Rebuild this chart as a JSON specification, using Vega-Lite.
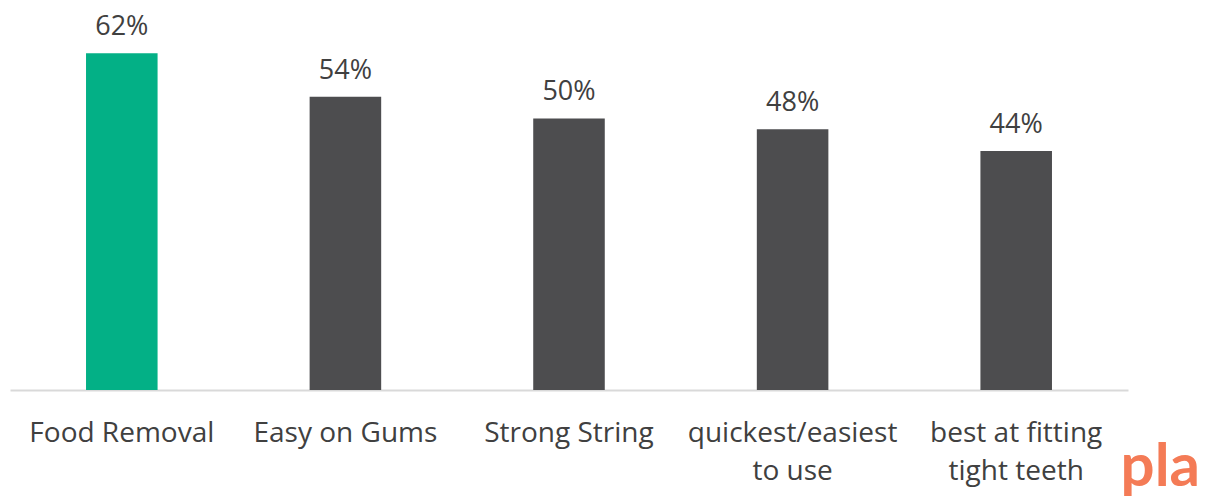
{
  "$schema": "https://vega.github.io/schema/vega-lite/v6.json",
  "width": 1118,
  "height": 390,
  "autosize": "none",
  "padding": {"left": 10, "top": 0, "right": 80, "bottom": 112},
  "background": "white",
  "title": {
    "text": "pla",
    "orient": "bottom",
    "anchor": "end",
    "color": "#F47B56",
    "font": "Lato",
    "fontWeight": "bold",
    "fontSize": 60,
    "dx": 72,
    "dy": -50
  },
  "data": {
    "values": [
      {"attribute": "Food Removal", "share": 0.62, "highlight": "yes"},
      {"attribute": "Easy on Gums", "share": 0.54, "highlight": "no"},
      {"attribute": "Strong String", "share": 0.50, "highlight": "no"},
      {"attribute": "quickest/easiest to use", "share": 0.48, "highlight": "no"},
      {"attribute": "best at fitting tight teeth", "share": 0.44, "highlight": "no"}
    ]
  },
  "encoding": {
    "x": {
      "field": "attribute",
      "type": "nominal",
      "sort": null,
      "scale": {"paddingInner": 0.68, "paddingOuter": 0.34},
      "axis": {
        "title": null,
        "labelAngle": 0,
        "labelFont": "Open Sans",
        "labelFontSize": 28,
        "labelColor": "#404040",
        "labelPadding": 29,
        "labelLineHeight": 38,
        "labelBaseline": "top",
        "labelLimit": 400,
        "ticks": false,
        "domainColor": "#D9D9D9",
        "domainWidth": 2,
        "labelExpr": "datum.value == 'quickest/easiest to use' ? ['quickest/easiest', 'to use'] : datum.value == 'best at fitting tight teeth' ? ['best at fitting', 'tight teeth'] : datum.value"
      }
    },
    "y": {
      "field": "share",
      "type": "quantitative",
      "scale": {"domain": [0, 0.718], "nice": false},
      "axis": null
    }
  },
  "layer": [
    {
      "mark": {"type": "bar"},
      "encoding": {
        "color": {
          "field": "highlight",
          "type": "nominal",
          "scale": {"domain": ["yes", "no"], "range": ["#03B086", "#4D4D4F"]},
          "legend": null
        }
      }
    },
    {
      "mark": {
        "type": "text",
        "baseline": "bottom",
        "dy": -12,
        "font": "Open Sans",
        "fontSize": 27,
        "color": "#404040"
      },
      "encoding": {
        "text": {"field": "share", "type": "quantitative", "format": ".0%"}
      }
    }
  ],
  "config": {"view": {"stroke": null}}
}
